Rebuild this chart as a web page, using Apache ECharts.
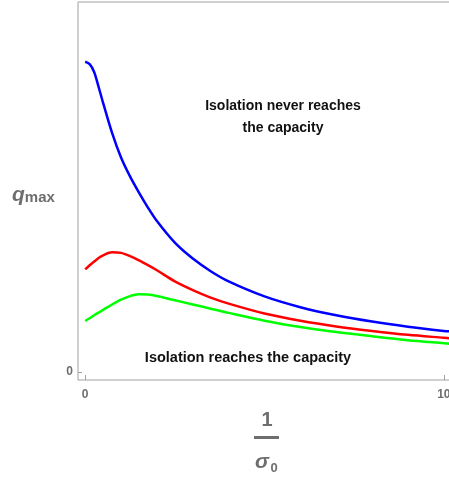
<!DOCTYPE html>
<html>
<head>
<meta charset="utf-8">
<script src="https://cdn.jsdelivr.net/npm/echarts@6/dist/echarts.min.js"></script>
<style>
  html, body { margin:0; padding:0; background:#fff; }
  #chart { width:449px; height:477px; }
</style>
</head>
<body>
<div id="chart"></div>
<script>
// 1/sigma0 sample points for each curve
const xs     = [0, 0.125, 0.25, 0.375, 0.5, 0.75, 1.0, 1.25, 1.5, 1.75, 2.0, 2.5, 3.0, 3.5, 4.0, 5.0, 6.0, 7.0, 8.0, 9.0, 10.0, 10.2];
const yBlue  = [1.034, 1.026, 1.0, 0.95, 0.897, 0.797, 0.715, 0.652, 0.598, 0.548, 0.503, 0.431, 0.378, 0.336, 0.302, 0.252, 0.216, 0.189, 0.168, 0.151, 0.137, 0.135];
const yRed   = [0.342, 0.356, 0.368, 0.38, 0.389, 0.399, 0.397, 0.386, 0.372, 0.356, 0.339, 0.302, 0.273, 0.248, 0.228, 0.195, 0.171, 0.152, 0.137, 0.124, 0.114, 0.112];
const yGreen = [0.17, 0.179, 0.189, 0.198, 0.207, 0.225, 0.241, 0.253, 0.259, 0.258, 0.253, 0.239, 0.225, 0.211, 0.197, 0.171, 0.15, 0.133, 0.119, 0.106, 0.096, 0.094];
const xTicks = [0, 10];
const yTicks = [0];

const pairs = ys => xs.map((x, i) => [x, ys[i]]);
const grey = '#6e6e6e';
const frame = '#a0a0a0';

const chart = echarts.init(document.getElementById('chart'));
chart.setOption({
  animation: false,
  grid: {left:78, top:2, width:373, height:378, outerBoundsMode:'none', containLabel:false,
         show:true, borderColor:frame, borderWidth:1},
  xAxis: {
    type:'value', min:-0.2, max:10.2,
    axisLine:{show:false, onZero:false},
    splitLine:{show:false},
    axisTick:{inside:true, length:5, customValues:xTicks, lineStyle:{color:frame}},
    axisLabel:{customValues:xTicks, color:grey, fontWeight:'bold', fontSize:12, margin:9, fontFamily:'Liberation Sans'}
  },
  yAxis: {
    type:'value', min:-0.0267, max:1.2333,
    axisLine:{show:false, onZero:false},
    splitLine:{show:false},
    axisTick:{inside:true, length:4, customValues:yTicks, lineStyle:{color:frame}},
    axisLabel:{customValues:yTicks, color:grey, fontWeight:'bold', fontSize:12, margin:5, fontFamily:'Liberation Sans'}
  },
  series: [
    {type:'line', data:pairs(yBlue), smooth:0.3, showSymbol:false, lineStyle:{color:'#0000ff', width:2.5}},
    {type:'line', data:pairs(yRed), smooth:0.3, showSymbol:false, lineStyle:{color:'#ff0000', width:2.5}},
    {type:'line', data:pairs(yGreen), smooth:0.3, showSymbol:false, lineStyle:{color:'#00ff00', width:2.5}}
  ],
  graphic: [
    {type:'text', x:12, y:195, style:{text:'{q|q}{s|max}', verticalAlign:'middle', rich:{
      q:{fontSize:21, fontStyle:'italic', fontWeight:'bold', fill:grey, fontFamily:'Liberation Sans'},
      s:{fontSize:15, fontWeight:'bold', fill:grey, fontFamily:'Liberation Sans', padding:[6,0,0,0]}
    }}},
    {type:'text', x:283, y:106, style:{text:'Isolation never reaches', font:'bold 14px Liberation Sans', fill:'#111', align:'center', verticalAlign:'middle'}},
    {type:'text', x:283, y:128, style:{text:'the capacity', font:'bold 14px Liberation Sans', fill:'#111', align:'center', verticalAlign:'middle'}},
    {type:'text', x:248, y:358, style:{text:'Isolation reaches the capacity', font:'bold 14.5px Liberation Sans', fill:'#111', align:'center', verticalAlign:'middle'}},
    {type:'text', x:267, y:420, style:{text:'1', font:'bold 20px Liberation Sans', fill:grey, align:'center', verticalAlign:'middle'}},
    {type:'rect', shape:{x:254, y:436, width:25, height:3}, style:{fill:grey}},
    {type:'text', x:262, y:462, style:{text:'σ', font:'italic bold 21px Liberation Sans', fill:grey, align:'center', verticalAlign:'middle'}},
    {type:'text', x:274, y:468, style:{text:'0', font:'bold 13px Liberation Sans', fill:grey, align:'center', verticalAlign:'middle'}}
  ]
});
</script>
</body>
</html>
